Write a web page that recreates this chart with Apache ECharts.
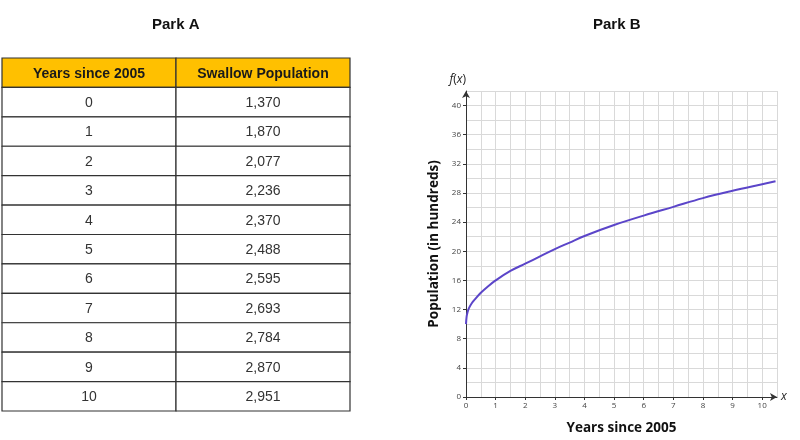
<!DOCTYPE html>
<html>
<head>
<meta charset="utf-8">
<script src="https://cdn.jsdelivr.net/npm/echarts@6/dist/echarts.min.js"></script>
<style>
  html, body { margin: 0; padding: 0; background: #fff; }
  #chart { width: 800px; height: 440px; }
</style>
</head>
<body>
<div id="chart"></div>
<script>
// ---- Data ----
const tableHeaders = ['Years since 2005', 'Swallow Population'];
const years = [0, 1, 2, 3, 4, 5, 6, 7, 8, 9, 10];
const swallowPopulation = [1370, 1870, 2077, 2236, 2370, 2488, 2595, 2693, 2784, 2870, 2951];

// Park B curve (x = years since 2005, y = population in hundreds)
const curveX = [0, 0.02, 0.05, 0.1, 0.2, 0.3, 0.5, 0.75, 1, 1.5, 2, 2.5, 3, 3.5, 4, 5, 6, 7, 8, 9, 10, 10.45];
const curveY = [10.0, 11.0, 11.6, 12.2, 12.9, 13.4, 14.3, 15.2, 16.0, 17.3, 18.3, 19.3, 20.3, 21.2, 22.1, 23.6, 24.9, 26.1, 27.3, 28.3, 29.2, 29.6];

const xTickLabels = [0, 1, 2, 3, 4, 5, 6, 7, 8, 9, 10];
const yTickLabels = [0, 4, 8, 12, 16, 20, 24, 28, 32, 36, 40];

// ---- Build table cells ----
const rowNames = ['header'].concat(years.map(String));
const cellData = [];
const cellTexts = [];
tableHeaders.forEach((h, c) => { cellData.push([c, 0]); cellTexts.push(h); });
years.forEach((yr, i) => {
  cellData.push([0, i + 1]); cellTexts.push(String(yr));
  cellData.push([1, i + 1]); cellTexts.push(swallowPopulation[i].toLocaleString('en-US'));
});

const chart = echarts.init(document.getElementById('chart'), null, { renderer: 'canvas' });
const baseFont = '"Liberation Sans", Arial, sans-serif';
const axisFont = '"Open Sans", "Noto Sans", sans-serif';
const hidden = { axisLine: { show: false }, axisTick: { show: false }, axisLabel: { show: false } };

const option = {
  backgroundColor: '#ffffff',
  animation: false,
  graphic: [
    { type: 'text', left: 152, top: 17, style: { text: 'Park A', font: 'bold 15px "Liberation Sans Narrow", "Liberation Sans", Arial, sans-serif', fill: '#111' } },
    { type: 'text', left: 593, top: 17, style: { text: 'Park B', font: 'bold 15px "Liberation Sans Narrow", "Liberation Sans", Arial, sans-serif', fill: '#111' } }
  ],
  grid: [
    { left: 466, top: 91, width: 311, height: 310 },
    { left: 2, top: 58, width: 348, height: 353 }
  ],
  xAxis: [
    // 0: fine grid lines every 0.5
    Object.assign({
      type: 'value', gridIndex: 0, min: 0, max: 10.5, interval: 0.5,
      splitLine: { show: true, lineStyle: { color: '#d9d9d9', width: 1 } }
    }, hidden),
    // 1: main axis with arrow, ticks and labels
    {
      type: 'value', gridIndex: 0, min: 0, max: 10.5, interval: 1, position: 'bottom',
      axisLine: { show: true, onZero: false, lineStyle: { color: '#333', width: 1 }, symbol: ['none', 'arrow'], symbolSize: [6, 7] },
      axisTick: { show: true, customValues: xTickLabels, length: 3, lineStyle: { color: '#333' } },
      axisLabel: { customValues: xTickLabels, fontSize: 8, color: '#444', margin: 5, fontFamily: axisFont },
      splitLine: { show: false },
      name: 'Years since 2005', nameLocation: 'middle', nameGap: 24,
      nameTextStyle: { fontSize: 13.5, fontWeight: 'bold', color: '#111', fontFamily: axisFont }
    },
    // 2: "x" label at end
    Object.assign({
      type: 'value', gridIndex: 0, min: 0, max: 10.5, position: 'bottom',
      splitLine: { show: false },
      name: 'x', nameLocation: 'end', nameGap: 4,
      nameTextStyle: { fontSize: 12, fontStyle: 'italic', color: '#222', fontFamily: axisFont }
    }, hidden),
    // 3: table columns
    { type: 'category', gridIndex: 1, data: tableHeaders, show: false }
  ],
  yAxis: [
    Object.assign({
      type: 'value', gridIndex: 0, min: 0, max: 42, interval: 2,
      splitLine: { show: true, lineStyle: { color: '#d9d9d9', width: 1 } }
    }, hidden),
    {
      type: 'value', gridIndex: 0, min: 0, max: 42, interval: 4, position: 'left',
      axisLine: { show: true, onZero: false, lineStyle: { color: '#333', width: 1 }, symbol: ['none', 'arrow'], symbolSize: [6, 7] },
      axisTick: { show: true, customValues: yTickLabels, length: 3, lineStyle: { color: '#333' } },
      axisLabel: { customValues: yTickLabels, fontSize: 8, color: '#444', margin: 5, fontFamily: axisFont },
      splitLine: { show: false },
      name: 'Population (in hundreds)', nameLocation: 'middle', nameGap: 25, nameRotate: 90,
      nameTextStyle: { fontSize: 13.5, fontWeight: 'bold', color: '#111', fontFamily: axisFont }
    },
    Object.assign({
      type: 'value', gridIndex: 0, min: 0, max: 42, position: 'left',
      splitLine: { show: false },
      name: '{i|f}{n|(}{i|x}{n|)}', nameLocation: 'end', nameGap: 5,
      nameTextStyle: {
        align: 'right', color: '#222', fontFamily: axisFont,
        rich: {
          i: { fontSize: 12, fontStyle: 'italic', color: '#222', fontFamily: axisFont },
          n: { fontSize: 12, color: '#222', fontFamily: axisFont }
        }
      }
    }, hidden),
    { type: 'category', gridIndex: 1, data: rowNames, inverse: true, show: false }
  ],
  series: [
    {
      type: 'line', xAxisIndex: 1, yAxisIndex: 1,
      data: curveX.map((x, i) => [x, curveY[i]]),
      showSymbol: false, smooth: 0.4,
      lineStyle: { color: '#5b45c9', width: 2 },
      silent: true, z: 5
    },
    {
      type: 'custom', xAxisIndex: 3, yAxisIndex: 3,
      data: cellData,
      silent: true,
      renderItem: function (params, api) {
        const c = api.value(0), r = api.value(1);
        const pt = api.coord([c, r]);
        const sz = api.size([1, 1]);
        const header = r === 0;
        return {
          type: 'group',
          children: [
            {
              type: 'rect',
              shape: { x: pt[0] - sz[0] / 2, y: pt[1] - sz[1] / 2, width: sz[0], height: sz[1] },
              style: { fill: header ? '#FFC000' : '#ffffff', stroke: '#333', lineWidth: 1.2 }
            },
            {
              type: 'text',
              style: {
                text: cellTexts[params.dataIndex],
                x: pt[0], y: pt[1] + 1, align: 'center', verticalAlign: 'middle',
                font: (header ? 'bold ' : '') + '14px ' + baseFont,
                fill: header ? '#1a1a1a' : '#333'
              }
            }
          ]
        };
      }
    }
  ]
};
chart.setOption(option);
</script>
</body>
</html>
